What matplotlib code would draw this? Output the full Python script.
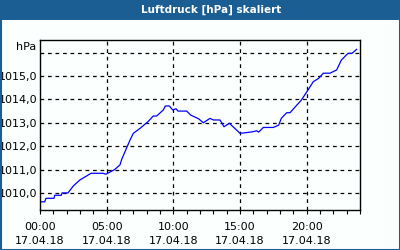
import matplotlib
matplotlib.use("Agg")
import matplotlib.pyplot as plt
from matplotlib.patches import Rectangle
from matplotlib.ticker import MultipleLocator
from matplotlib.transforms import blended_transform_factory

hours = [0.0, 0.35, 0.45, 1.05, 1.1, 1.6, 1.65, 2.1, 2.5, 2.98, 3.83, 4.73, 4.95, 5.6, 6.0,
         6.13, 6.75, 7.0, 7.5, 8.1, 8.5, 8.75, 9.25, 9.4, 9.7, 9.95, 10.2, 10.35, 11.0, 11.3,
         11.9, 12.25, 12.75, 13.0, 13.5, 13.8, 14.2, 15.0, 15.5, 16.0, 16.25, 16.4, 16.75,
         17.5, 17.9, 18.1, 18.5, 18.75, 19.6, 20.1, 20.5, 20.9, 21.25, 21.75, 22.25, 22.6,
         23.1, 23.4, 23.75]
pressure = [1009.62, 1009.62, 1009.77, 1009.77, 1009.9, 1009.9, 1010.0, 1010.0, 1010.3,
            1010.55, 1010.84, 1010.84, 1010.80, 1011.0, 1011.2, 1011.44, 1012.26, 1012.55,
            1012.76, 1013.05, 1013.29, 1013.29, 1013.55, 1013.72, 1013.72, 1013.55, 1013.6,
            1013.5, 1013.5, 1013.33, 1013.17, 1013.0, 1013.19, 1013.12, 1013.12, 1012.83,
            1012.98, 1012.55, 1012.58, 1012.62, 1012.66, 1012.6, 1012.8, 1012.8, 1012.9,
            1013.19, 1013.43, 1013.43, 1013.97, 1014.4, 1014.76, 1014.9, 1015.12, 1015.12,
            1015.26, 1015.68, 1015.97, 1015.97, 1016.14]

x_ticks = [0, 5, 10, 15, 20]
x_labels = ["00:00\n17.04.18", "05:00\n17.04.18", "10:00\n17.04.18",
            "15:00\n17.04.18", "20:00\n17.04.18"]
y_ticks = [1010, 1011, 1012, 1013, 1014, 1015]
y_labels = ["1010,0", "1011,0", "1012,0", "1013,0", "1014,0", "1015,0"]
y_grid = [1010, 1011, 1012, 1013, 1014, 1015, 1016]
title = "Luftdruck [hPa] skaliert"
unit = "hPa"

bg = "#fbfffd"
blue = "#1b5e94"

fig = plt.figure(figsize=(4, 2.5), dpi=100, facecolor=bg)
ax = fig.add_axes([0.1, 0.16, 0.8, 0.68], facecolor=bg)

ax.plot(hours, pressure, color="#0000ff", lw=0.9)

ax.set_xlim(0, 24)
ax.set_ylim(1009.27, 1016.54)

ax.set_xticks(x_ticks)
ax.set_xticklabels(x_labels, fontsize=8, linespacing=1.5)
ax.xaxis.set_minor_locator(MultipleLocator(1))
ax.set_yticks(y_ticks)
ax.set_yticklabels(y_labels, fontsize=8)
ax.tick_params(axis="y", length=0, pad=2)
ax.tick_params(axis="x", which="both", length=3, width=0.8, direction="out", pad=6)

for v in y_grid:
    ax.axhline(v, color="black", lw=0.9, ls=(0, (3, 3)), zorder=0)
for v in x_ticks[1:]:
    ax.axvline(v, color="black", lw=0.9, ls=(0, (3, 3)), zorder=0)

for s in ax.spines.values():
    s.set_linewidth(1.0)
    s.set_color("black")

ax.text(-0.012, 1016.25, unit, fontsize=8, ha="right", va="center",
        transform=blended_transform_factory(ax.transAxes, ax.transData))

fig.patches.append(Rectangle((0, 230 / 250), 1, 20 / 250, transform=fig.transFigure,
                             facecolor=blue, edgecolor="none", zorder=0))
fig.patches.append(Rectangle((0.5 / 400, 0.5 / 250), 399 / 400, 249 / 250, transform=fig.transFigure,
                             facecolor="none", edgecolor=blue, lw=1.5, zorder=5))
fig.text(211 / 400, 240 / 250, title, color="white", fontsize=7.5, fontweight="bold",
         ha="center", va="center")

fig.savefig("out.png", dpi=100, facecolor=bg)
